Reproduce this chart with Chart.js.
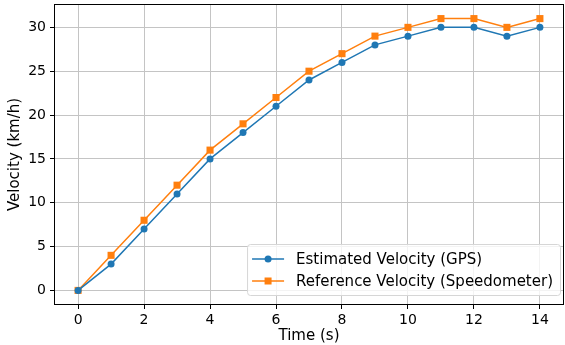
<!DOCTYPE html>
<html>
<head>
<meta charset="utf-8">
<script src="https://cdn.jsdelivr.net/npm/chart.js@4"></script>
<style>
  html, body { margin: 0; padding: 0; background: #fff; overflow: hidden; }
  #wrap { width: 568px; height: 345px; }
</style>
</head>
<body>
<div id="wrap"><canvas id="velChart" width="568" height="345"></canvas></div>
<script>
// Time samples and the two velocity series (km/h)
const timeSec = [0, 1, 2, 3, 4, 5, 6, 7, 8, 9, 10, 11, 12, 13, 14];
const gpsVelocity = [0, 3, 7, 11, 15, 18, 21, 24, 26, 28, 29, 30, 30, 29, 30];
const refVelocity = [0, 4, 8, 12, 16, 19, 22, 25, 27, 29, 30, 31, 31, 30, 31];
const xTicks = [0, 2, 4, 6, 8, 10, 12, 14];
const yTicks = [0, 5, 10, 15, 20, 25, 30];

const FONT = "'DejaVu Sans', sans-serif";

// draws the black frame round the plot area
const framePlugin = {
    id: 'frame',
    afterDraw(chart) {
        const a = chart.chartArea;
        const ctx = chart.ctx;
        ctx.save();
        ctx.strokeStyle = '#000';
        ctx.lineWidth = 1;
        ctx.strokeRect(Math.round(a.left) - 0.5, Math.round(a.top) - 0.5,
            Math.round(a.right - a.left) + 1, Math.round(a.bottom - a.top) + 1);
        ctx.restore();
    }
};

// matplotlib style legend in the lower right corner
const insideLegend = {
    id: 'insideLegend',
    afterDraw(chart) {
        const a = chart.chartArea;
        const ctx = chart.ctx;
        const sets = chart.data.datasets;
        ctx.save();
        ctx.font = '15px ' + FONT;
        let maxW = 0;
        sets.forEach(ds => { maxW = Math.max(maxW, ctx.measureText(ds.label).width); });
        const padL = 5, handle = 32, gap = 12, padR = 7, rowH = 22, padT = 2;
        const w = padL + handle + gap + maxW + padR;
        const h = padT * 2 + rowH * sets.length + 3;
        const right = 560, bottom = a.bottom - 9;
        const left = right - w, top = bottom - h;

        ctx.beginPath();
        ctx.roundRect(left + 0.5, top + 0.5, w, h, 3);
        ctx.fillStyle = 'rgba(255,255,255,0.8)';
        ctx.fill();
        ctx.strokeStyle = '#d6d6d6';
        ctx.lineWidth = 1;
        ctx.stroke();

        sets.forEach((ds, i) => {
            const cy = top + padT + 13 + i * rowH;
            const x0 = left + padL;
            ctx.strokeStyle = ds.borderColor;
            ctx.lineWidth = 1.5;
            ctx.beginPath();
            ctx.moveTo(x0, cy);
            ctx.lineTo(x0 + handle, cy);
            ctx.stroke();
            ctx.fillStyle = ds.borderColor;
            const mx = x0 + handle / 2;
            if (ds.pointStyle === 'rect') {
                ctx.fillRect(mx - 3.5, cy - 3.5, 7, 7);
            } else {
                ctx.beginPath();
                ctx.arc(mx, cy, 3.5, 0, Math.PI * 2);
                ctx.fill();
            }
            ctx.fillStyle = '#000';
            ctx.textBaseline = 'middle';
            ctx.fillText(ds.label, x0 + handle + gap, cy + 1);
        });
        ctx.restore();
    }
};

new Chart(document.getElementById('velChart'), {
    type: 'line',
    data: {
        datasets: [
            {
                label: 'Estimated Velocity (GPS)',
                data: timeSec.map((t, i) => ({ x: t, y: gpsVelocity[i] })),
                borderColor: '#1f77b4',
                backgroundColor: '#1f77b4',
                borderWidth: 1.5,
                pointStyle: 'circle',
                pointRadius: 3.5,
                pointBorderWidth: 0,
                tension: 0
            },
            {
                label: 'Reference Velocity (Speedometer)',
                data: timeSec.map((t, i) => ({ x: t, y: refVelocity[i] })),
                borderColor: '#ff7f0e',
                backgroundColor: '#ff7f0e',
                borderWidth: 1.5,
                pointStyle: 'rect',
                pointRadius: 5,
                pointBorderWidth: 0,
                tension: 0
            }
        ]
    },
    options: {
        responsive: false,
        animation: false,
        devicePixelRatio: 1,
        layout: { padding: { left: 0, right: 1, top: 4, bottom: 0 } },
        plugins: {
            legend: { display: false },
            tooltip: { enabled: false }
        },
        scales: {
            x: {
                type: 'linear',
                min: -0.7,
                max: 14.7,
                afterBuildTicks: s => { s.ticks = xTicks.map(v => ({ value: v })); },
                afterFit: s => { s.height = 41; s.paddingLeft = 0; s.paddingRight = 0; },
                grid: { color: '#c4c4c4', lineWidth: 1, tickLength: 5, tickColor: '#000' },
                border: { display: false },
                ticks: { color: '#000', font: { family: FONT, size: 14 }, padding: 3, maxRotation: 0 },
                title: { display: true, text: 'Time (s)', color: '#000', font: { family: FONT, size: 15 }, padding: { top: 0, bottom: 0 } }
            },
            y: {
                min: -1.55,
                max: 32.55,
                afterBuildTicks: s => { s.ticks = yTicks.map(v => ({ value: v })); },
                afterFit: s => { s.width = 55; s.paddingTop = 0; s.paddingBottom = 0; },
                grid: { color: '#c4c4c4', lineWidth: 1, tickLength: 5, tickColor: '#000' },
                border: { display: false },
                ticks: { color: '#000', font: { family: FONT, size: 14 }, padding: 4 },
                title: { display: true, text: 'Velocity (km/h)', color: '#000', font: { family: FONT, size: 15 }, padding: { top: 6, bottom: 0 } }
            }
        }
    },
    plugins: [framePlugin, insideLegend]
});
</script>
</body>
</html>
